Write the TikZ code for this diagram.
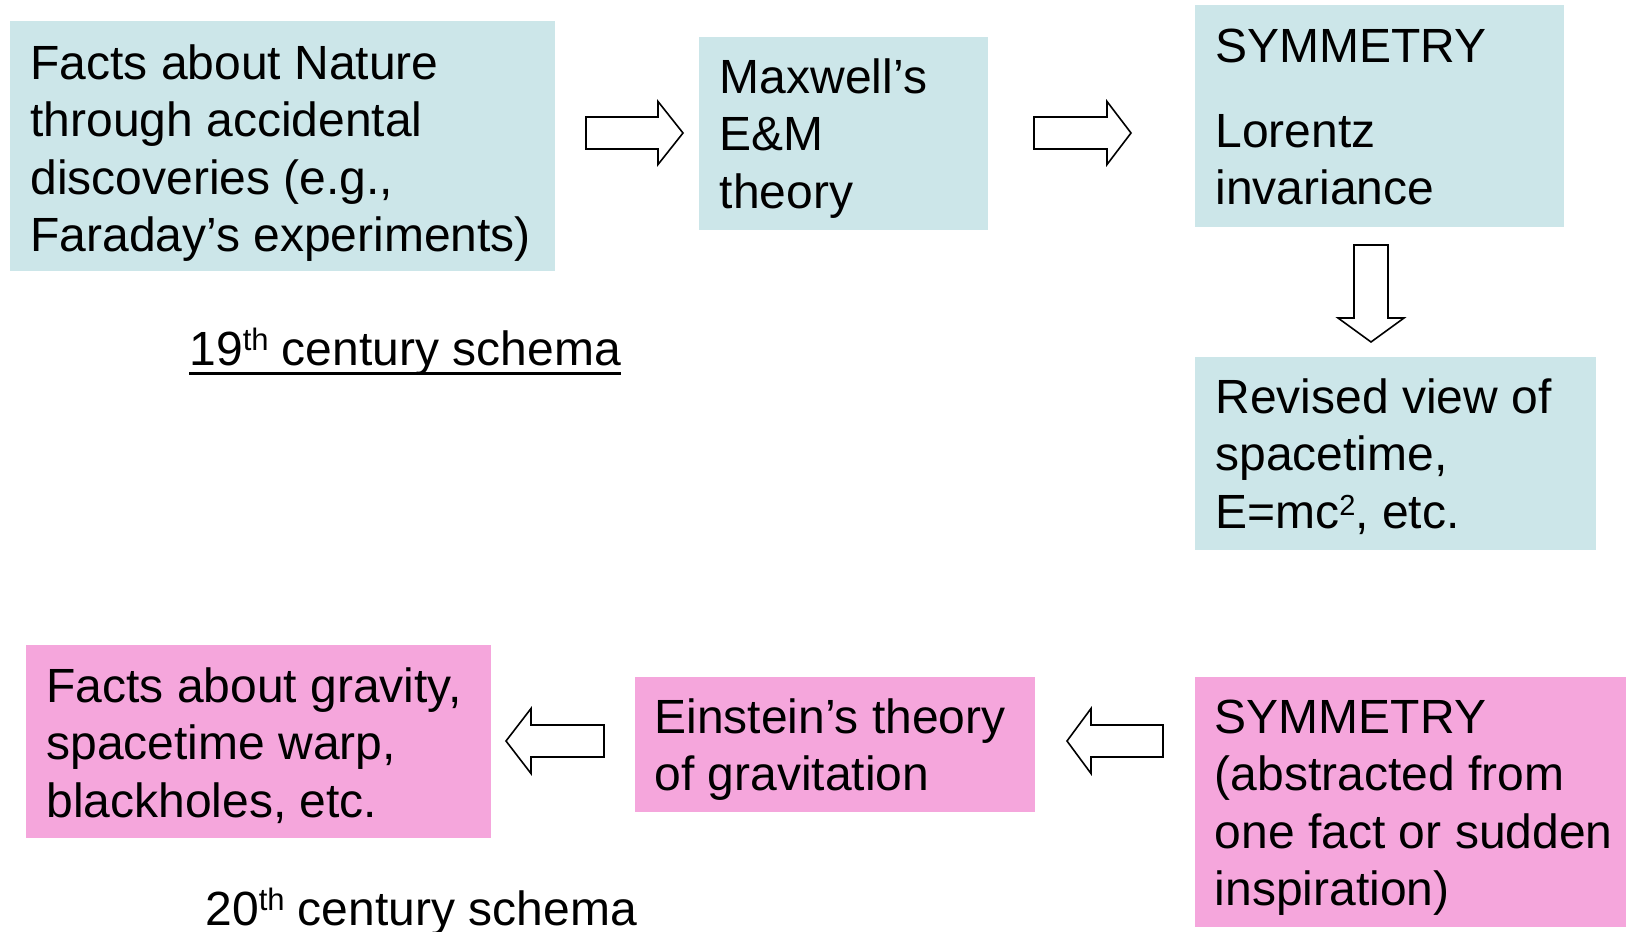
\documentclass[tikz,border=0pt]{standalone}
\usepackage{fontspec}
\setmainfont{Liberation Sans}
\usetikzlibrary{calc,fit}
\definecolor{boxblue}{RGB}{204,230,233}
\definecolor{boxpink}{RGB}{245,166,220}
\newcommand\blockarrow[5]{% tail, tip, head length, body half width, head half width
  \coordinate (hb) at ($(#2)!#3!(#1)$);
  \draw[blk] ($(#1)!#4!90:(#2)$) -- ($(hb)!#4!90:(#2)$) -- ($(hb)!#5!90:(#2)$) -- (#2)
    -- ($(hb)!#5!-90:(#2)$) -- ($(hb)!#4!-90:(#2)$) -- ($(#1)!#4!-90:(#2)$) -- cycle;}
\newcommand\supth{\raisebox{7.5pt}{\fontsize{15.5}{16}\selectfont th}}
\newcommand\suptwo{\raisebox{6.7pt}{\fontsize{14.5}{15}\selectfont 2}}
\begin{document}
\begin{tikzpicture}[x=0.5pt,y=-0.5pt,
  blue box/.style={fill=boxblue, draw=none, inner sep=0pt},
  pink box/.style={fill=boxpink, draw=none, inner sep=0pt},
  txt/.style={anchor=north west, inner sep=0pt, align=left, font=\fontsize{24}{28.75}\selectfont},
  lbl/.style={anchor=base west, inner sep=0pt, font=\fontsize{24}{28.75}\selectfont},
  blk/.style={draw=black, fill=white, line width=0.8pt, line join=miter},
]
\useasboundingbox (0,0) rectangle (1626,931);

% boxes
\node[blue box, fit={(10,21) (555,271)}] (b1) {};
\node[blue box, fit={(699,37) (988,230)}] (b2) {};
\node[blue box, fit={(1195,5) (1564,227)}] (b3) {};
\node[blue box, fit={(1195,357) (1596,550)}] (b4) {};
\node[pink box, fit={(26,645) (491,838)}] (b5) {};
\node[pink box, fit={(635,677) (1035,812)}] (b6) {};
\node[pink box, fit={(1195,677) (1626,927)}] (b7) {};

% texts
\node[txt] (t1) at (30,38.75) {\strut Facts about Nature\\through accidental\\discoveries (e.g.,\\Faraday’s experiments)};
\node[txt] (t2) at (719.5,52.75) {\strut Maxwell’s\\E\&M\\theory};
\node[txt] (t3) at (1215,21.75) {\strut SYMMETRY\\[13.75pt]Lorentz\\invariance};
\node[txt] (t4) at (1215,372.75) {\strut Revised view of\\spacetime,\\E=mc\suptwo, etc.};
\node[txt] (t5) at (46,661.75) {\strut Facts about gravity,\\spacetime warp,\\blackholes, etc.};
\node[txt] (t6) at (654,692.75) {\strut Einstein’s theory\\of gravitation};
\node[txt] (t7) at (1214.5,692.75) {\strut SYMMETRY\\(abstracted from\\one fact or sudden\\inspiration)};

% schema labels
\node[lbl] (l19) at (189,365) {19\supth\ century schema};
\draw[line width=1.5pt] ([yshift=-4pt]l19.base west) -- ([yshift=-4pt]l19.base east);
\node[lbl] (l20) at (205,925) {20\supth\ century schema};

% block arrows
\coordinate (a1s) at (586,133);  \coordinate (a1e) at (683,133);
\coordinate (a2s) at (1034,133); \coordinate (a2e) at (1131,133);
\coordinate (a3s) at (1371,245); \coordinate (a3e) at (1371,342);
\coordinate (a4s) at (604,741);  \coordinate (a4e) at (506,741);
\coordinate (a5s) at (1163,741); \coordinate (a5e) at (1067,741);
\blockarrow{a1s}{a1e}{12.5pt}{8pt}{15.75pt}
\blockarrow{a2s}{a2e}{12pt}{8pt}{15.75pt}
\blockarrow{a3s}{a3e}{12pt}{8.5pt}{16.5pt}
\blockarrow{a4s}{a4e}{12.5pt}{8pt}{16.25pt}
\blockarrow{a5s}{a5e}{12pt}{8pt}{16.25pt}
\end{tikzpicture}
\end{document}
